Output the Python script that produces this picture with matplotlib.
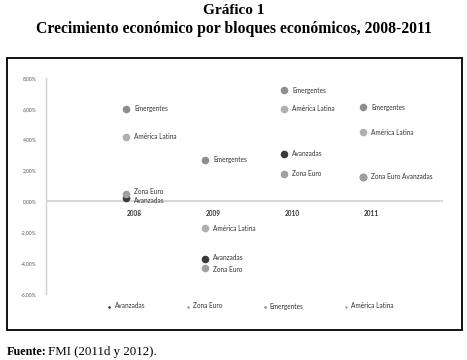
import matplotlib.pyplot as plt
import matplotlib.patches as patches
from matplotlib.ticker import FuncFormatter

# data (% growth)
years = ["2008", "2009", "2010", "2011"]
avanzadas = [0.2, -3.7, 3.1, 1.6]
zona_euro = [0.5, -4.3, 1.8, 1.6]
emergentes = [6.0, 2.7, 7.2, 6.1]
america_latina = [4.2, -1.75, 6.0, 4.5]

series = [
    ("Avanzadas", avanzadas, "#3a3a3a"),
    ("Zona Euro", zona_euro, "#a0a0a0"),
    ("Emergentes", emergentes, "#8e8e8e"),
    ("América Latina", america_latina, "#b0b0b0"),
]

plt.rcParams['font.family'] = ['Lato', 'DejaVu Sans']

W, H = 467, 360
fig = plt.figure(figsize=(W / 100, H / 100), dpi=100)
fig.patch.set_facecolor("white")

# titles and footer
fig.text(0.5, 1 - 11 / H, "Gráfico 1", ha="center", va="center",
         family="Liberation Serif", fontsize=11, fontweight="bold")
fig.text(0.5, 1 - 29 / H, "Crecimiento económico por bloques económicos, 2008-2011",
         ha="center", va="center", family="Liberation Serif", fontsize=11.3, fontweight="bold")
fig.text(7 / W, 1 - 352 / H, "Fuente:", ha="left", va="center",
         family="Liberation Serif", fontsize=8.7, fontweight="bold")
fig.text(48 / W, 1 - 352 / H, "FMI (2011d y 2012).", ha="left", va="center",
         family="Liberation Serif", fontsize=9.3)

# frame around the chart
fig.patches.append(patches.Rectangle((7 / W, 1 - 330 / H), (462 - 7) / W, (330 - 58) / H,
                                     transform=fig.transFigure, fill=False,
                                     edgecolor="black", linewidth=1.3))

ax = fig.add_axes([46 / W, 1 - 294 / H, (443 - 46) / W, (294 - 78) / H])
x = list(range(len(years)))

for name, vals, col in series:
    ax.scatter(x, vals, s=30, color=col, zorder=3, label=name, linewidths=0)

# point labels (vertical offset in points, None = no label)
lbl = {
    "Avanzadas": [-1.5, 1, 0, None],
    "Zona Euro": [1.5, -1, 0, 0],
    "Emergentes": [0, 0, 0, 0],
    "América Latina": [0, 0, 0, 0],
}
for name, vals, col in series:
    for i, v in enumerate(vals):
        off = lbl[name][i]
        if off is None:
            continue
        text = name
        if name == "Zona Euro" and i == 3:
            text = "Zona Euro Avanzadas"
        ax.annotate(text, (i, v), xytext=(6, off), textcoords="offset points",
                    ha="left", va="center", fontsize=4.7, color="#333333")

ax.axhline(0, color="#d4d4d4", lw=1.3, zorder=1)
for i, yr in enumerate(years):
    ax.annotate(yr, (i, 0), xytext=(6, -9), textcoords="offset points",
                ha="center", va="center", fontsize=4.7, fontweight="bold", color="#333333")

ax.set_xlim(-1.01, 4.01)
ax.set_ylim(-6, 8)
ax.set_yticks(range(-6, 9, 2))
ax.yaxis.set_major_formatter(FuncFormatter(lambda v, p: f"{v:.2f}%".replace(".", ",")))
ax.tick_params(axis="y", length=0, labelsize=3.6, labelcolor="#555555", pad=7)
ax.set_xticks([])
for s in ["top", "right", "bottom"]:
    ax.spines[s].set_visible(False)
ax.spines["left"].set_color("#d0d0d0")
ax.spines["left"].set_linewidth(1.0)

leg = fig.legend(loc="center", bbox_to_anchor=(250 / W, 1 - 306 / H), ncol=4,
                 frameon=False, fontsize=4.7, markerscale=0.35, handletextpad=0.3,
                 columnspacing=6.0, handlelength=1)
for txt in leg.get_texts():
    txt.set_color("#333333")

fig.savefig("out.png", dpi=100)
